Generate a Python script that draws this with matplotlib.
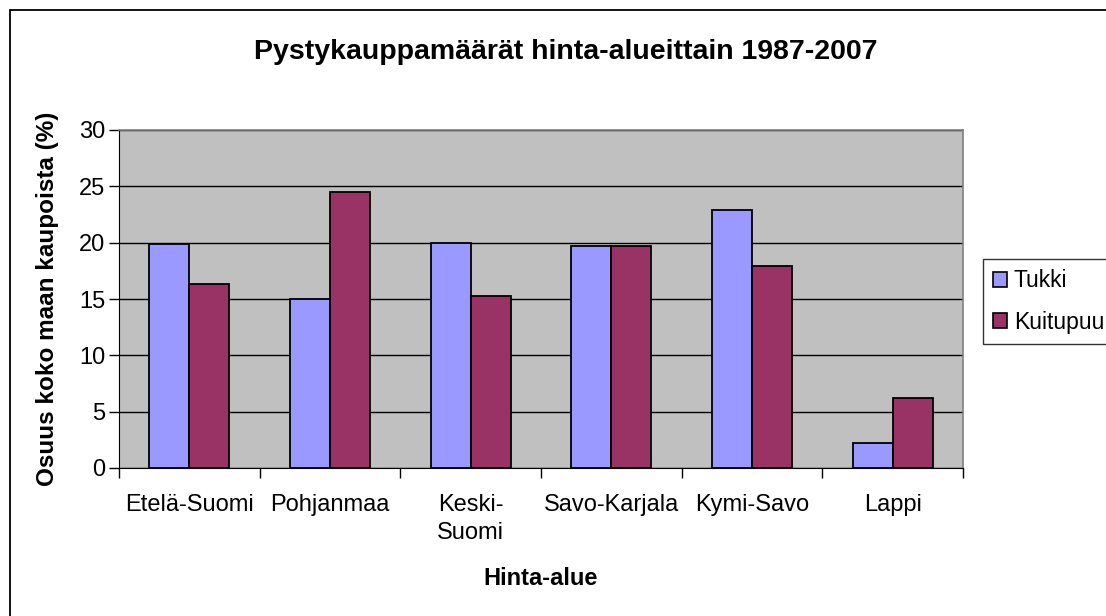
import numpy as np
import matplotlib.pyplot as plt
from matplotlib.patches import Rectangle, Patch

plt.rcParams['font.family'] = ['Liberation Sans', 'DejaVu Sans']

regions = ["Etelä-Suomi", "Pohjanmaa", "Keski-\nSuomi", "Savo-Karjala", "Kymi-Savo", "Lappi"]
tukki = [19.9, 15.0, 20.0, 19.7, 22.9, 2.2]
kuitupuu = [16.3, 24.5, 15.3, 19.7, 17.9, 6.2]
series_names = ["Tukki", "Kuitupuu"]
colors = ["#9999FF", "#993366"]

W, H = 1106, 616
fig = plt.figure(figsize=(W / 100, H / 100), dpi=100)
ax = fig.add_axes([119 / W, 1 - 468 / H, (963 - 119) / W, (468 - 130) / H])

x = np.arange(len(regions))
bw = 0.285
ax.bar(x - bw / 2, tukki, bw, color=colors[0], edgecolor="black", linewidth=1.3, zorder=3)
ax.bar(x + bw / 2, kuitupuu, bw, color=colors[1], edgecolor="black", linewidth=1.3, zorder=3)

ax.set_facecolor("#C0C0C0")
ax.set_xlim(-0.5, len(regions) - 0.5)
ax.set_ylim(0, 30)
ax.set_yticks(range(0, 31, 5))
ax.yaxis.grid(True, color="black", linewidth=1, zorder=1)
ax.set_axisbelow(True)

ax.set_xticks(x)
ax.set_xticklabels(regions, fontsize=17, linespacing=1.35)
ax.tick_params(axis="x", length=0, pad=19)
ax.set_xticks(np.arange(-0.5, len(regions), 1), minor=True)
ax.tick_params(axis="x", which="minor", length=7, width=1, color="black")
ax.tick_params(axis="y", labelsize=17, length=7, width=1, color="black", pad=3)
for lbl in ax.get_xticklabels():
    lbl.set_verticalalignment("top")

for side in ["top", "right"]:
    ax.spines[side].set_color("#808080")
    ax.spines[side].set_linewidth(1.2)
ax.spines["left"].set_color("black")
ax.spines["bottom"].set_color("black")

ax.set_xlabel("Hinta-alue", fontsize=17, fontweight="bold", labelpad=16)
ax.set_ylabel("Osuus koko maan kaupoista (%)", fontsize=17.5, fontweight="bold", labelpad=14)

fig.text(566 / W, 1 - 52 / H, "Pystykauppamäärät hinta-alueittain 1987-2007",
         ha="center", va="center", fontsize=20.5, fontweight="bold")

# outer chart frame (runs past right and bottom edges)
frame = Rectangle((10 / W, -0.05), 1.1, 1 - 10 / H + 0.05, transform=fig.transFigure,
                  fill=False, edgecolor="black", linewidth=1.3, clip_on=False)
fig.patches.append(frame)

handles = [Patch(facecolor=c, edgecolor="black", linewidth=1.2) for c in colors]
leg = fig.legend(handles, series_names, loc="upper left",
                 bbox_to_anchor=(983 / W, 1 - 259 / H), fontsize=16.5,
                 frameon=True, fancybox=False, edgecolor="black",
                 handlelength=0.6, handleheight=0.6, handletextpad=0.3,
                 borderpad=0.45, labelspacing=0.8, borderaxespad=0)
leg.get_frame().set_linewidth(1.0)

fig.savefig("out.png", dpi=100)
